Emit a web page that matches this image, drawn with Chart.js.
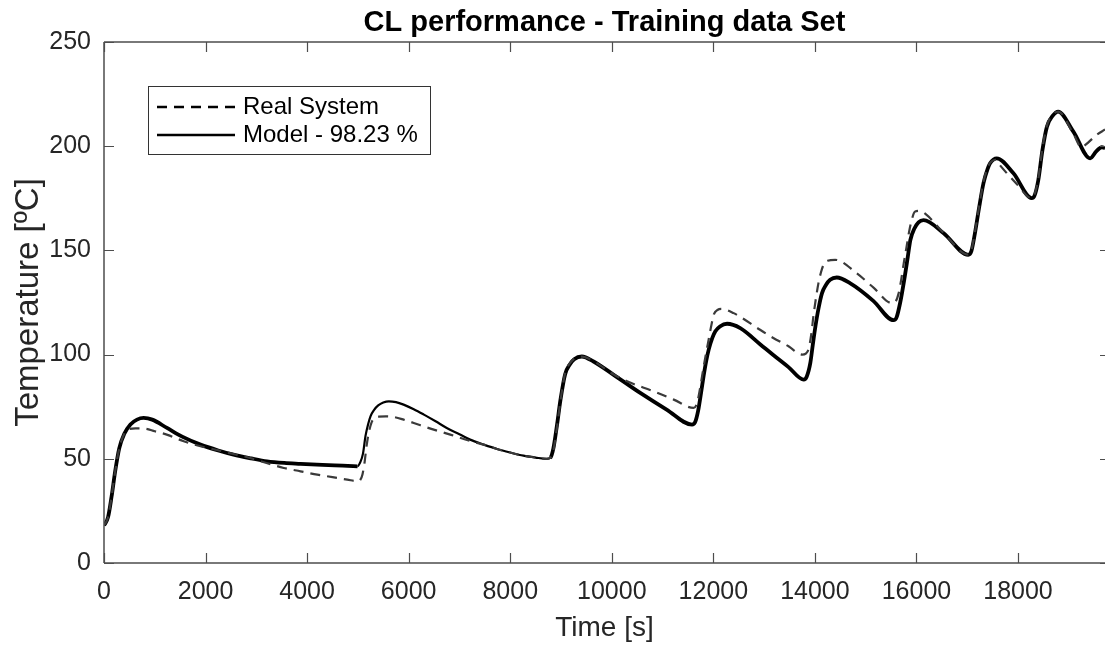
<!DOCTYPE html>
<html>
<head>
<meta charset="utf-8">
<script src="https://cdn.jsdelivr.net/npm/chart.js@4.4.1/dist/chart.umd.min.js"></script>
<style>
  html, body { margin: 0; padding: 0; background: #fff; }
  #wrap { width: 1105px; height: 646px; }
</style>
</head>
<body>
<div id="wrap"><canvas id="cl"></canvas></div>
<script>
// Measured data (time in s, temperature in ºC)
const timeReal = [0, 80, 150, 220, 300, 380, 460, 620, 800, 1000, 1250, 1570, 1900, 2230, 2550, 2880, 3200, 3540, 3870, 4200, 4500, 4790, 5000, 5050, 5090, 5130, 5170, 5210, 5270, 5330, 5410, 5550, 5700, 5900, 6100, 6430, 6820, 7210, 7500, 7740, 8000, 8260, 8500, 8720, 8790, 8850, 8920, 8990, 9080, 9180, 9260, 9410, 9640, 10030, 10300, 10820, 11220, 11610, 11660, 11710, 11760, 11810, 11860, 11910, 11960, 12010, 12080, 12170, 12400, 12920, 13180, 13480, 13750, 13820, 13880, 13930, 13970, 14020, 14070, 14120, 14170, 14250, 14400, 14820, 15160, 15520, 15590, 15650, 15700, 15750, 15800, 15850, 15900, 15970, 16050, 16200, 16530, 17020, 17080, 17150, 17230, 17320, 17400, 17450, 17560, 17640, 17970, 18270, 18320, 18400, 18480, 18570, 18680, 18790, 19090, 19250, 19320, 19550, 19713];
const tempReal = [18, 22, 32, 44, 55, 61, 64, 64.6, 64.5, 63.2, 61.5, 58.4, 56, 54.2, 52.3, 50.4, 48, 45.6, 44, 42.4, 41.2, 40, 39.2, 40, 42.5, 48, 56, 62, 67.5, 69.5, 70.2, 70.4, 70.1, 68.8, 67.2, 64.5, 61.6, 58.6, 56.6, 54.7, 53, 51.5, 50.6, 50, 50.5, 54, 65, 78, 91, 96, 98, 99, 96.8, 90.6, 87.2, 82.4, 78.4, 74.4, 75.5, 80, 87, 94.3, 101, 107.5, 114, 119.3, 121.4, 121.9, 119.9, 111.9, 108, 104, 100, 100.5, 103, 110, 118.3, 127, 134.3, 139.5, 143.1, 145, 145.5, 139.1, 132, 124.7, 125.5, 129.5, 136, 143.9, 151, 158.3, 164, 168.6, 169, 167, 158.5, 148, 150, 158.5, 170.5, 183, 189.5, 192, 193.5, 191, 182, 175, 176.5, 184.5, 199, 210, 215, 216.6, 206, 199.5, 200.5, 205.5, 208];

const timeModel = [0, 80, 150, 220, 300, 400, 520, 650, 780, 950, 1240, 1550, 1900, 2250, 2550, 2900, 3210, 3550, 3870, 4300, 4700, 4990, 5050, 5100, 5150, 5200, 5250, 5320, 5400, 5500, 5610, 5750, 5900, 6100, 6300, 6530, 6750, 7000, 7210, 7480, 7740, 8000, 8260, 8500, 8720, 8790, 8850, 8920, 8990, 9080, 9180, 9260, 9410, 9640, 10030, 10560, 11080, 11580, 11640, 11700, 11760, 11810, 11860, 11910, 11980, 12040, 12130, 12270, 12530, 12920, 13180, 13480, 13780, 13840, 13910, 13960, 14010, 14070, 14140, 14220, 14300, 14430, 14690, 15150, 15550, 15610, 15680, 15760, 15830, 15880, 15960, 16040, 16140, 16530, 17020, 17080, 17150, 17230, 17320, 17400, 17450, 17580, 17910, 18270, 18320, 18400, 18480, 18570, 18680, 18790, 19090, 19420, 19540, 19650, 19713];
const tempModel = [18, 22, 32, 44, 55, 62, 66.5, 68.8, 69.6, 68.8, 64.8, 60.5, 56.8, 54, 52, 50.2, 48.8, 48, 47.6, 47.1, 46.7, 46.4, 48.5, 52.5, 61, 66.5, 70.5, 73.5, 75.6, 77, 77.6, 77.2, 76, 73.8, 71.2, 68, 64.8, 61.8, 59.2, 56.8, 54.7, 53, 51.5, 50.6, 50, 50.5, 55, 66, 78.4, 90.5, 95.5, 97.8, 99.1, 96.7, 90.4, 81.6, 73.6, 66.4, 67.5, 73, 82, 90, 97, 102.5, 108, 111.2, 113.5, 114.8, 112.7, 105, 99.8, 94, 88, 89.5, 96, 105, 113.5, 122, 129.5, 133.5, 135.9, 137, 134.3, 125.8, 116.5, 118, 125, 136, 147, 155, 160.5, 163.5, 164.5, 158.3, 147.9, 149.5, 158, 170, 182.3, 189, 191.8, 194.2, 187, 175.1, 176, 183.8, 198, 209.4, 214.5, 216.6, 207, 194.2, 197.5, 199.5, 199];

const xTicks = [0, 2000, 4000, 6000, 8000, 10000, 12000, 14000, 16000, 18000];
const yTicks = [0, 50, 100, 150, 200, 250];
const seriesLabels = ['Real System', 'Model - 98.23 %'];

const FONT = "'Liberation Sans', Arial, Helvetica, sans-serif";
const TXT = '#262626';

function toPoints(xs, ys) {
  return xs.map((x, i) => ({ x: x, y: ys[i] }));
}

// box around the axes with inward ticks, like the original figure
const boxPlugin = {
  id: 'box',
  afterDatasetsDraw(chart) {
    const { ctx, chartArea: a, scales } = chart;
    ctx.save();
    ctx.strokeStyle = '#4d4d4d';
    ctx.lineWidth = 1.5;
    ctx.beginPath();
    ctx.moveTo(a.left, a.top); ctx.lineTo(a.right, a.top);
    ctx.moveTo(a.left, a.top); ctx.lineTo(a.left, a.bottom);
    ctx.moveTo(a.left, a.bottom); ctx.lineTo(a.right, a.bottom);
    ctx.stroke();
    ctx.lineWidth = 1.2;
    ctx.beginPath();
    scales.x.ticks.forEach(t => {
      const px = Math.round(scales.x.getPixelForValue(t.value)) + 0.5;
      ctx.moveTo(px, a.bottom); ctx.lineTo(px, a.bottom - 10);
      ctx.moveTo(px, a.top); ctx.lineTo(px, a.top + 10);
    });
    scales.y.ticks.forEach(t => {
      const py = Math.round(scales.y.getPixelForValue(t.value)) + 0.5;
      ctx.moveTo(a.left, py); ctx.lineTo(a.left + 10, py);
      ctx.moveTo(a.right, py); ctx.lineTo(a.right - 5, py);
    });
    ctx.stroke();
    ctx.restore();
  }
};

// legend box inside the plot, top left
const legendPlugin = {
  id: 'boxLegend',
  afterDraw(chart) {
    const { ctx } = chart;
    const x0 = 148, y0 = 86, w = 282, h = 68;
    ctx.save();
    ctx.fillStyle = '#fff';
    ctx.fillRect(x0, y0, w, h);
    ctx.strokeStyle = '#333';
    ctx.lineWidth = 1;
    ctx.strokeRect(x0 + 0.5, y0 + 0.5, w, h);
    ctx.font = '24px ' + FONT;
    ctx.textBaseline = 'middle';
    ctx.fillStyle = '#000';
    chart.data.datasets.forEach((ds, i) => {
      const yy = y0 + 21 + i * 28;
      ctx.beginPath();
      ctx.strokeStyle = '#000';
      ctx.lineWidth = 2.5;
      ctx.setLineDash(ds.borderDash || []);
      ctx.moveTo(157, yy); ctx.lineTo(235, yy);
      ctx.stroke();
      ctx.setLineDash([]);
      ctx.fillText(ds.label, 243, yy);
    });
    ctx.restore();
  }
};

const chart = new Chart(document.getElementById('cl'), {
  type: 'line',
  data: {
    datasets: [
      {
        label: seriesLabels[0],
        data: toPoints(timeReal, tempReal),
        borderColor: '#3a3a3a',
        borderWidth: 2.2,
        borderDash: [10, 7],
        pointRadius: 0,
        fill: false,
        cubicInterpolationMode: 'monotone'
      },
      {
        label: seriesLabels[1],
        data: toPoints(timeModel, tempModel),
        borderColor: '#000',
        borderWidth: 3.5,
        pointRadius: 0,
        fill: false,
        cubicInterpolationMode: 'monotone',
        segment: {
          // the second hump is a single thin trace in the original
          borderWidth: c => (c.p0.parsed.x >= 4990 && c.p1.parsed.x <= 8790 ? 2.2 : 3.8)
        }
      }
    ]
  },
  options: {
    responsive: true,
    maintainAspectRatio: false,
    animation: false,
    layout: { padding: 0 },
    plugins: {
      legend: { display: false },
      tooltip: { enabled: false },
      title: {
        display: true,
        fullSize: false, // centre over the plot area, not the whole canvas
        text: 'CL performance - Training data Set',
        color: '#000',
        font: { family: FONT, size: 29, weight: 'bold', lineHeight: 1.2 },
        padding: { top: 6, bottom: 1.2 }
      }
    },
    scales: {
      x: {
        type: 'linear',
        min: 0,
        max: 19713,
        afterBuildTicks: s => { s.ticks = xTicks.map(v => ({ value: v })); },
        afterFit: s => { s.height = 83; },
        grid: { display: false, drawTicks: false },
        border: { display: false },
        ticks: { color: TXT, font: { family: FONT, size: 25 }, padding: 14, maxRotation: 0, autoSkip: false, callback: v => String(v) },
        title: {
          display: true,
          text: 'Time [s]',
          color: TXT,
          font: { family: FONT, size: 28, lineHeight: 1.2 },
          padding: { top: 0, bottom: 1 }
        }
      },
      y: {
        type: 'linear',
        min: 0,
        max: 250,
        afterBuildTicks: s => { s.ticks = yTicks.map(v => ({ value: v })); },
        afterFit: s => { s.width = 104; },
        grid: { display: false, drawTicks: false },
        border: { display: false },
        ticks: { color: TXT, font: { family: FONT, size: 25 }, padding: 13, callback: v => String(v) },
        title: {
          display: true,
          text: 'Temperature [ºC]',
          color: TXT,
          font: { family: FONT, size: 33, lineHeight: 1.2 },
          padding: { top: 9, bottom: 0 }
        }
      }
    }
  },
  plugins: [boxPlugin, legendPlugin]
});
</script>
</body>
</html>
